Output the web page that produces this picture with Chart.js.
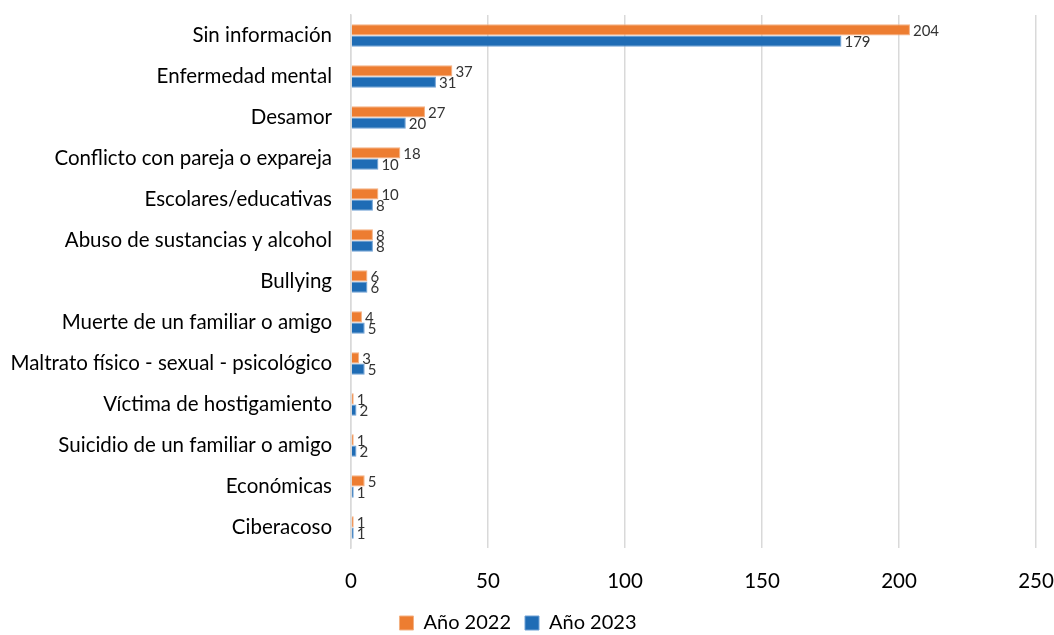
<!DOCTYPE html>
<html lang="es">
<head>
<meta charset="UTF-8">
<title>Motivos</title>
<style>
    body { margin: 0; background: #fff; }
    .caja { position: relative; width: 1054px; height: 635px; }
</style>
</head>
<body>
<div class="caja">
    <canvas id="grafico"></canvas>
</div>
<script src="https://cdn.jsdelivr.net/npm/chart.js"></script>
<script>
    var categorias = ['Sin información', 'Enfermedad mental', 'Desamor', 'Conflicto con pareja o expareja',
        'Escolares/educativas', 'Abuso de sustancias y alcohol', 'Bullying', 'Muerte de un familiar o amigo',
        'Maltrato físico - sexual - psicológico', 'Víctima de hostigamiento', 'Suicidio de un familiar o amigo',
        'Económicas', 'Ciberacoso'];
    var valores2022 = [204, 37, 27, 18, 10, 8, 6, 4, 3, 1, 1, 5, 1];
    var valores2023 = [179, 31, 20, 10, 8, 8, 6, 5, 5, 2, 2, 1, 1];
    var ticksX = [0, 50, 100, 150, 200, 250];

    var fuente = 'Lato, "Open Sans", sans-serif';

    // etiquetas al final de cada barra
    const etiquetas = {
        id: 'etiquetas',
        afterInit(chart) {
            // leyenda mas baja: se recorta su alto
            const fitOriginal = chart.legend.fit;
            chart.legend.fit = function () {
                fitOriginal.call(this);
                this.height = 36;
            };
        },
        afterDatasetsDraw(chart) {
            const ctx = chart.ctx;
            ctx.save();
            ctx.font = '15px ' + fuente;
            ctx.fillStyle = '#333';
            ctx.textBaseline = 'middle';
            ctx.textAlign = 'left';
            chart.data.datasets.forEach(function (ds, i) {
                chart.getDatasetMeta(i).data.forEach(function (barra, j) {
                    ctx.fillText(ds.data[j], barra.x + 3, barra.y + 1);
                });
            });
            ctx.restore();
        }
    };

    new Chart(document.getElementById('grafico'), {
        type: 'bar',
        data: {
            labels: categorias,
            datasets: [{
                label: 'Año 2022',
                data: valores2022,
                backgroundColor: '#ED7D31',
                borderColor: '#F4B183',
                borderWidth: 1,
                categoryPercentage: 0.55,
                barPercentage: 1
            }, {
                label: 'Año 2023',
                data: valores2023,
                backgroundColor: '#1F6CB5',
                borderColor: '#6FA0D4',
                borderWidth: 1,
                categoryPercentage: 0.55,
                barPercentage: 1
            }]
        },
        options: {
            indexAxis: 'y',
            responsive: true,
            maintainAspectRatio: false,
            animation: false,
            layout: { padding: { top: 15, right: 18, left: 0, bottom: 0 } },
            scales: {
                x: {
                    min: 0,
                    max: 250,
                    afterBuildTicks: function (scale) {
                        scale.ticks = ticksX.map(function (v) { return { value: v }; });
                    },
                    afterFit: function (scale) {
                        scale.paddingLeft = 0;
                        scale.paddingRight = 0;
                        scale.height = 51;
                    },
                    grid: { color: '#D9D9D9', lineWidth: 1.5, drawTicks: false },
                    border: { display: false },
                    ticks: { padding: 21, color: '#000', font: { size: 20.5, family: fuente } }
                },
                y: {
                    afterFit: function (scale) {
                        scale.width = 351;
                        scale.paddingTop = 0;
                        scale.paddingBottom = 0;
                    },
                    grid: { display: false, drawTicks: false },
                    border: { display: true, color: '#D9D9D9', width: 1.5 },
                    ticks: { padding: 19, color: '#000', font: { size: 20.5, family: fuente } }
                }
            },
            plugins: {
                legend: {
                    position: 'bottom',
                    labels: {
                        color: '#000',
                        font: { size: 20, family: fuente },
                        boxWidth: 14,
                        boxHeight: 14,
                        padding: 14
                    }
                },
                tooltip: { enabled: false }
            }
        },
        plugins: [etiquetas]
    });
</script>
</body>
</html>
